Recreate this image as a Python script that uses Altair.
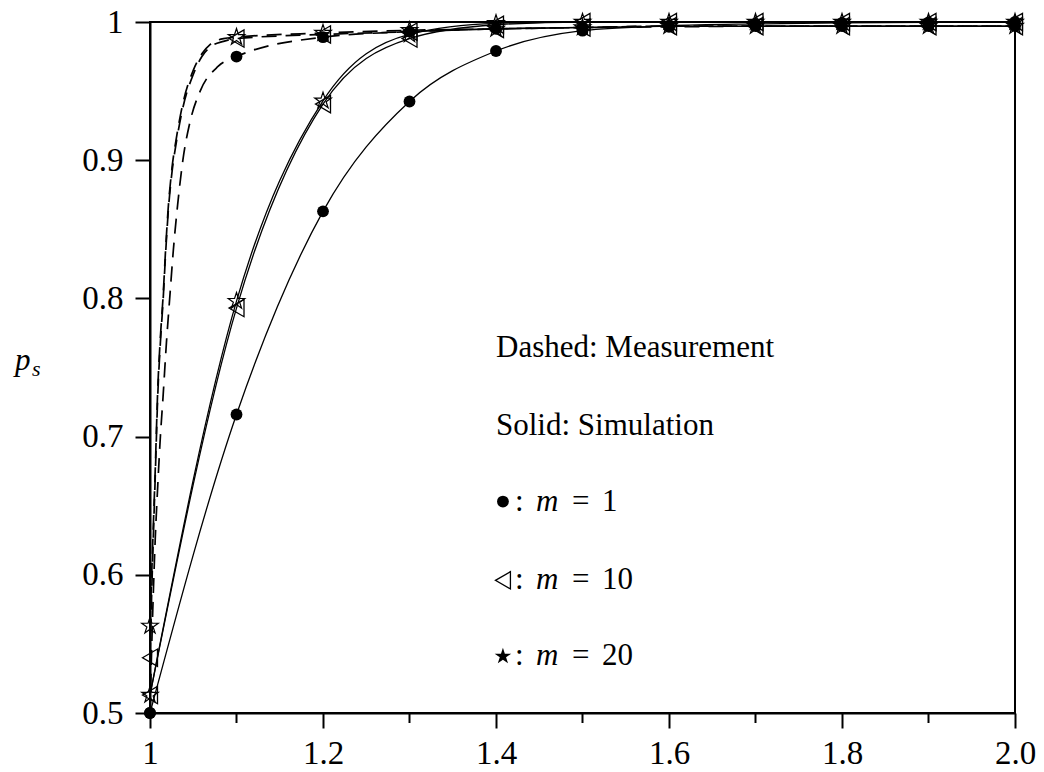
import altair as alt
import pandas as pd

# ---------------- data ----------------
x_grid = [1.0, 1.1, 1.2, 1.3, 1.4, 1.5, 1.6, 1.7, 1.8, 1.9, 2.0]

# Simulation (solid)
sim_m1 = [0.500, 0.716, 0.863, 0.9425, 0.979, 0.9937, 0.9973, 0.9986, 0.9993, 0.9997, 1.000]
sim_m10 = [0.513, 0.793, 0.9406, 0.988, 0.998, 1.000, 1.000, 1.000, 1.000, 1.000, 1.000]
sim_m20 = [0.513, 0.798, 0.943, 0.991, 0.999, 1.000, 1.000, 1.000, 1.000, 1.000, 1.000]

# Measurement (dashed) markers
meas_m1 = [0.500, 0.975, 0.989, 0.993, 0.995, 0.996, 0.9965, 0.997, 0.997, 0.997, 0.997]
meas_m10 = [0.540, 0.988, 0.991, 0.993, 0.995, 0.996, 0.997, 0.997, 0.997, 0.997, 0.997]
meas_m20 = [0.563, 0.989, 0.992, 0.994, 0.995, 0.996, 0.997, 0.997, 0.997, 0.997, 0.997]

# Measurement (dashed) curves, steep part before x = 1.1
meas_m1_cx = [1.0, 1.003, 1.006, 1.009, 1.012, 1.015, 1.019, 1.023, 1.027, 1.032, 1.038, 1.046, 1.058, 1.079]
meas_m1_cy = [0.500, 0.570, 0.625, 0.665, 0.700, 0.728, 0.768, 0.802, 0.835, 0.868, 0.900, 0.927, 0.950, 0.968]
meas_m10_cx = [1.0, 1.003, 1.006, 1.009, 1.012, 1.015, 1.018, 1.021, 1.025, 1.031, 1.038, 1.050, 1.060, 1.070, 1.085]
meas_m10_cy = [0.540, 0.610, 0.670, 0.730, 0.768, 0.797, 0.832, 0.862, 0.889, 0.915, 0.938, 0.962, 0.975, 0.982, 0.986]
meas_m20_cx = [1.0, 1.003, 1.006, 1.009, 1.012, 1.015, 1.018, 1.021, 1.025, 1.031, 1.038, 1.050, 1.060, 1.070, 1.085]
meas_m20_cy = [0.563, 0.620, 0.675, 0.735, 0.772, 0.800, 0.835, 0.865, 0.892, 0.918, 0.941, 0.965, 0.977, 0.984, 0.988]

x_major = [1.0, 1.2, 1.4, 1.6, 1.8, 2.0]
x_minor = [1.1, 1.3, 1.5, 1.7, 1.9]
y_major = [0.5, 0.6, 0.7, 0.8, 0.9, 1.0]

# annotation block
ann_lines = ["Dashed: Measurement", "Solid: Simulation"]
ann_line_y = [0.764, 0.708]
key_m = ["1", "10", "20"]
key_y = [0.653, 0.596, 0.541]
key_x = 1.4
sym_x = 1.408

STAR = ("M0,-1L0.2234,-0.3074L0.9511,-0.309L0.3614,0.1174L0.5878,0.809L0,0.38"
        "L-0.5878,0.809L-0.3614,0.1174L-0.9511,-0.309L-0.2234,-0.3074Z")

# ---------------- tables ----------------
rows_pts = []
for name, vals in (("1", meas_m1), ("10", meas_m10), ("20", meas_m20)):
    for xv, yv in zip(x_grid, vals):
        rows_pts.append({"x": xv, "y": yv, "m": name, "kind": "meas"})
for name, vals in (("1", sim_m1), ("10", sim_m10), ("20", sim_m20)):
    for xv, yv in zip(x_grid, vals):
        rows_pts.append({"x": xv, "y": yv, "m": name, "kind": "sim"})
pts = pd.DataFrame(rows_pts)

rows_meas = []
for name, cx, cy, vals in (("1", meas_m1_cx, meas_m1_cy, meas_m1),
                           ("10", meas_m10_cx, meas_m10_cy, meas_m10),
                           ("20", meas_m20_cx, meas_m20_cy, meas_m20)):
    for xv, yv in zip(cx, cy):
        rows_meas.append({"x": xv, "y": yv, "m": name})
    for xv, yv in zip(x_grid[1:], vals[1:]):
        rows_meas.append({"x": xv, "y": yv, "m": name})
meas_df = pd.DataFrame(rows_meas)
sim_df = pts[pts.kind == "sim"].reset_index(drop=True)

ann_df = pd.DataFrame({"x": [key_x] * 2, "y": ann_line_y, "t": ann_lines})
key_df = pd.DataFrame({"x": [key_x] * 3, "sx": [sym_x] * 3, "y": key_y, "m": key_m})
minor_df = pd.DataFrame({"x": x_minor})

FONT = "Liberation Serif"
xs = alt.Scale(domain=[1.0, 2.0], nice=False, zero=False)
ys = alt.Scale(domain=[0.5, 1.0], nice=False, zero=False)
lab = "datum.value == 1 ? '1' : format(datum.value, '.1f')"

X = alt.X("x:Q", scale=xs, axis=alt.Axis(values=x_major, labelExpr=lab, title=None, tickSize=15,
                                           labelPadding=9, labelFlush=False))
Y = alt.Y("y:Q", scale=ys, axis=alt.Axis(values=y_major, labelExpr=lab, title=None, tickSize=15,
                                           labelPadding=12))

dashed = alt.Chart(meas_df).mark_line(color="black", strokeWidth=1.7, strokeDash=[15, 9],
                                      interpolate="monotone").encode(
    x=X, y=Y, detail="m:N", order="x:Q")
solid = alt.Chart(sim_df).mark_line(color="black", strokeWidth=1.3,
                                    interpolate="monotone").encode(
    x="x:Q", y="y:Q", detail="m:N", order="x:Q")

circles = alt.Chart(pts).transform_filter("datum.m == '1'").mark_point(
    shape="circle", filled=True, color="black", size=140, opacity=1).encode(x="x:Q", y="y:Q")
tris = alt.Chart(pts).transform_filter("datum.m == '10'").mark_point(
    shape="triangle-left", filled=False, color="black", size=300, strokeWidth=1.3, opacity=1).encode(
    x="x:Q", y="y:Q")
stars = alt.Chart(pts).transform_filter("datum.m == '20'").mark_point(
    shape=STAR, filled=False, color="black", size=300, strokeWidth=1.2, opacity=1).encode(
    x="x:Q", y="y:Q")

minor = alt.Chart(minor_df).mark_rule(color="black", strokeWidth=2).encode(
    x="x:Q", y=alt.value(691), y2=alt.value(701))

ann = alt.Chart(ann_df).mark_text(font=FONT, fontSize=31, align="left", baseline="middle",
                                  color="black").encode(x="x:Q", y="y:Q", text="t:N")

k_circ = alt.Chart(key_df).transform_filter("datum.m == '1'").mark_point(
    shape="circle", filled=True, color="black", size=140, opacity=1).encode(x="sx:Q", y="y:Q")
k_tri = alt.Chart(key_df).transform_filter("datum.m == '10'").mark_point(
    shape="triangle-left", filled=False, color="black", size=300, strokeWidth=1.3, opacity=1).encode(
    x="sx:Q", y="y:Q")
k_star = alt.Chart(key_df).transform_filter("datum.m == '20'").mark_point(
    shape=STAR, filled=True, color="black", size=300, opacity=1).encode(x="sx:Q", y="y:Q")
k_colon = alt.Chart(key_df).mark_text(font=FONT, fontSize=31, align="left", baseline="middle",
                                      dx=19, color="black").encode(x="x:Q", y="y:Q", text=alt.value(":"))
k_m = alt.Chart(key_df).mark_text(font=FONT, fontSize=31, fontStyle="italic", align="left",
                                  baseline="middle", dx=40, color="black").encode(
    x="x:Q", y="y:Q", text=alt.value("m"))
k_eq = alt.Chart(key_df).mark_text(font=FONT, fontSize=31, align="left", baseline="middle",
                                   dx=76, color="black").encode(x="x:Q", y="y:Q", text=alt.value("="))
k_num = alt.Chart(key_df).mark_text(font=FONT, fontSize=31, align="left", baseline="middle",
                                    dx=106, color="black").encode(x="x:Q", y="y:Q", text="m:N")

p_lab = alt.Chart(pd.DataFrame({"t": ["p"]})).mark_text(
    font=FONT, fontSize=31, fontStyle="italic", align="left", baseline="alphabetic",
    color="black").encode(x=alt.value(-135), y=alt.value(348), text="t:N")
s_lab = alt.Chart(pd.DataFrame({"t": ["s"]})).mark_text(
    font=FONT, fontSize=22, fontStyle="italic", align="left", baseline="alphabetic",
    color="black").encode(x=alt.value(-118), y=alt.value(354), text="t:N")

chart = alt.layer(dashed, solid, circles, tris, stars, minor, ann,
                  k_circ, k_tri, k_star, k_colon, k_m, k_eq, k_num, p_lab, s_lab).properties(
    width=865, height=691,
    padding={"left": 142, "top": 14, "right": 21, "bottom": 57},
    autosize=alt.AutoSizeParams(type="none"),
    background="white",
).configure_axis(
    labelFont=FONT, labelFontSize=33, labelColor="black", domainColor="black", domainWidth=2,
    tickColor="black", tickWidth=2, grid=False,
).configure_view(stroke="black", strokeWidth=2)

chart.save("out.html", embed_options={"renderer": "svg", "actions": False})
